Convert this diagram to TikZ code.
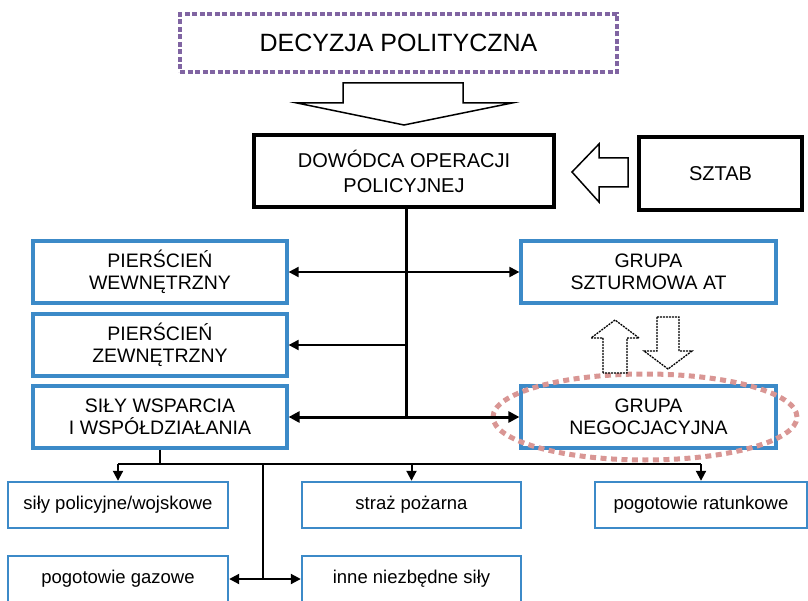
\documentclass[tikz,border=0pt]{standalone}
\usepackage{fontspec}
\setmainfont{Liberation Sans}
\usetikzlibrary{arrows.meta,shapes.geometric}
\definecolor{boxblue}{RGB}{60,138,200}
\definecolor{dotpurple}{RGB}{128,100,162}
\definecolor{dotpink}{RGB}{217,150,148}
\begin{document}
\begin{tikzpicture}[x=1pt,y=-1pt,
  bluebox/.style={draw=boxblue, line width=3.2pt, fill=white, minimum width=254pt,
    minimum height=62pt, inner sep=0pt, align=center, font=\fontsize{19.5}{22}\selectfont},
  smallbox/.style={draw=boxblue, line width=2.4pt, fill=white, minimum height=46pt,
    inner sep=0pt, font=\fontsize{18.5}{22}\selectfont},
  blackbox/.style={draw=black, fill=white, inner sep=0pt, align=center,
    font=\fontsize{20}{25}\selectfont},
  conn/.style={line width=2pt, draw=black},
  headA/.style={-{Triangle[length=10pt,width=10pt]}},
  headB/.style={{Triangle[length=10pt,width=10pt]}-{Triangle[length=10pt,width=10pt]}},
  hollowarrow/.style={draw=black, line width=1.5pt, fill=white, line join=miter},
  dothollow/.style={draw=black, line width=1.3pt, fill=white, dash pattern=on 2pt off 1pt},
]
\path[use as bounding box] (0,0) rectangle (808,601);
\clip (0,0) rectangle (808,601);

% title
\node (title) [draw=dotpurple, line width=3.5pt, dash pattern=on 5pt off 2.5pt,
  minimum width=437pt, minimum height=58pt, inner sep=0pt,
  font=\fontsize{25}{28}\selectfont] at (398.5,43) {DECYZJA POLITYCZNA};

% big hollow down arrow
\draw[hollowarrow] (343,83) -- (463,83) -- (463,103) -- (512,103) -- (404,125)
  -- (297,103) -- (343,103) -- cycle;

% commander and staff
\node (dow) [blackbox, line width=4pt, minimum width=300pt, minimum height=72pt]
  at (404,171) {DOWÓDCA OPERACJI\\POLICYJNEJ};
\node (sztab) [blackbox, line width=3.5pt, minimum width=163pt, minimum height=73pt]
  at (720.5,173.5) {SZTAB};

% hollow left arrow
\draw[hollowarrow] (628,158) -- (599,158) -- (599,144) -- (572,172) -- (599,202)
  -- (599,187) -- (628,187) -- cycle;

% blue boxes
\node (pw) [bluebox] at (160,272) {PIERŚCIEŃ\\WEWNĘTRZNY};
\node (pz) [bluebox] at (160,345) {PIERŚCIEŃ\\ZEWNĘTRZNY};
\node (sw) [bluebox] at (160,417) {SIŁY WSPARCIA\\I WSPÓŁDZIAŁANIA};
\node (gs) [bluebox, minimum width=255pt] at (648.5,272) {GRUPA\\SZTURMOWA AT};
\node (gn) [bluebox, minimum width=255pt] at (648.5,417) {GRUPA\\NEGOCJACYJNA};

% dotted ellipse
\node (ell) [ellipse, draw=dotpink, line width=5pt, dash pattern=on 6pt off 4.5pt,
  minimum width=304pt, minimum height=86pt, inner sep=0pt] at (645,417) {};

% small dotted hollow arrows
\draw[dothollow] (603,373) -- (603,338) -- (591,338) -- (615,320) -- (639,338)
  -- (627,338) -- (627,373) -- cycle;
\draw[dothollow] (657,317) -- (679,317) -- (679,351) -- (692,351) -- (668,369)
  -- (644,351) -- (657,351) -- cycle;

% main spine connectors
\coordinate (spine) at (406,0);
\draw[conn, line width=3pt] (spine |- dow.south) -- (spine |- sw.east);
\draw[conn, headB] (pw.east) -- (gs.west);
\draw[conn, headA] (spine |- pz.east) -- (pz.east);
\draw[conn, line width=3pt, {Triangle[length=11pt,width=11pt]}-{Triangle[length=11pt,width=11pt]}]
  (sw.east) -- (gn.west);

% bottom boxes
\node (b1) [smallbox, minimum width=220pt] at (118,505) {siły policyjne/wojskowe};
\node (b2) [smallbox, minimum width=219pt] at (411.5,505) {straż pożarna};
\node (b3) [smallbox, minimum width=212pt] at (701,505) {pogotowie ratunkowe};
\node (b4) [smallbox, minimum width=220pt] at (118,579) {pogotowie gazowe};
\node (b5) [smallbox, minimum width=219pt] at (411.5,579) {inne niezbędne siły};

% bottom bus
\coordinate (bus) at (0,464);
\coordinate (vx) at (263,464);
\draw[conn] (sw.south) -- (sw.south |- bus);
\draw[conn] (b1.north |- bus) -- (b3.north |- bus);
\draw[conn, headA] (b1.north |- bus) -- (b1.north);
\draw[conn, headA] (b2.north |- bus) -- (b2.north);
\draw[conn, headA] (b3.north |- bus) -- (b3.north);
\draw[conn] (vx) -- (vx |- b4.east);
\draw[conn, headB] (b4.east) -- (b5.west);
\end{tikzpicture}
\end{document}
